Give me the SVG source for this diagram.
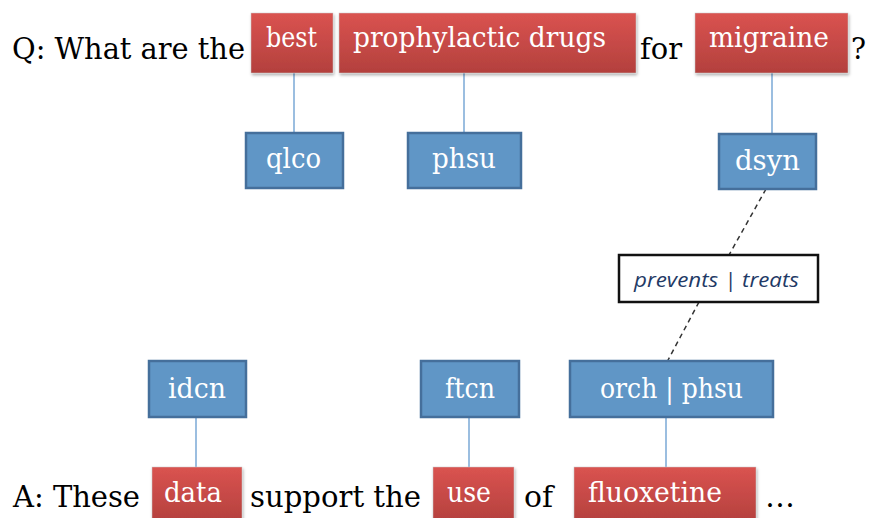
<svg xmlns="http://www.w3.org/2000/svg" width="869" height="518" viewBox="0 0 869 518">
<defs>
<linearGradient id="rg" x1="0" y1="0" x2="0" y2="1">
<stop offset="0" stop-color="#da5350"/>
<stop offset="1" stop-color="#b3403d"/>
</linearGradient>
<filter id="sh" x="-10%" y="-10%" width="130%" height="130%">
<feDropShadow dx="1" dy="2" stdDeviation="1.5" flood-color="#000" flood-opacity="0.3"/>
</filter>
<style>
.red{fill:url(#rg);stroke:#c9c9c9;stroke-width:0.5;filter:url(#sh)}
.blue{fill:#6096c6;stroke:#456f9b;stroke-width:2.5}
.wt{font-family:"DejaVu Serif","Liberation Serif",serif;font-size:27px;fill:#fff}
.bt{font-family:"DejaVu Serif","Liberation Serif",serif;font-size:30px;fill:#000}
.ln{stroke:#7aa8d6;stroke-width:1.5;fill:none}
.dash{stroke:#333;stroke-width:1.5;stroke-dasharray:5,4;fill:none}
.lbl{fill:#fff;stroke:#111;stroke-width:2.5}
.lt{font-family:"Open Sans","Liberation Sans",sans-serif;font-style:italic;font-weight:500;font-size:20px;fill:#1f3a66}
</style>
</defs>
<rect width="869" height="518" fill="#fff"/>
<g id="connectors">
<line class="ln" x1="294" y1="73" x2="294" y2="133"/>
<line class="ln" x1="464" y1="73" x2="464" y2="133"/>
<line class="ln" x1="772" y1="73" x2="772" y2="134"/>
<line class="ln" x1="196" y1="417" x2="196" y2="467"/>
<line class="ln" x1="469" y1="417" x2="469" y2="467"/>
<line class="ln" x1="666" y1="417" x2="666" y2="467"/>
<line class="dash" x1="766" y1="189" x2="729" y2="255"/>
<line class="dash" x1="699" y1="302" x2="667" y2="362"/>
</g>
<g id="q-text">
<text class="bt" x="12" y="59" textLength="233" lengthAdjust="spacingAndGlyphs">Q: What are the</text>
<text class="bt" x="640" y="59" textLength="42" lengthAdjust="spacingAndGlyphs">for</text>
<text class="bt" x="851" y="59" textLength="15" lengthAdjust="spacingAndGlyphs">?</text>
</g>
<g id="best"><rect class="red" x="251" y="13" width="82" height="60"/><text class="wt" x="266" y="47" textLength="51" lengthAdjust="spacingAndGlyphs">best</text></g>
<g id="prophylactic-drugs"><rect class="red" x="339" y="13" width="297" height="60"/><text class="wt" x="353" y="47" textLength="253" lengthAdjust="spacingAndGlyphs">prophylactic drugs</text></g>
<g id="migraine"><rect class="red" x="695" y="13" width="153" height="60"/><text class="wt" x="709" y="47" textLength="120" lengthAdjust="spacingAndGlyphs">migraine</text></g>
<g id="qlco"><rect class="blue" x="246" y="133" width="97" height="55"/><text class="wt" x="266" y="168" textLength="55" lengthAdjust="spacingAndGlyphs">qlco</text></g>
<g id="phsu"><rect class="blue" x="408" y="133" width="113" height="55"/><text class="wt" x="432" y="168" textLength="64" lengthAdjust="spacingAndGlyphs">phsu</text></g>
<g id="dsyn"><rect class="blue" x="719" y="134" width="97" height="55"/><text class="wt" x="735" y="170" textLength="65" lengthAdjust="spacingAndGlyphs">dsyn</text></g>
<g id="relation"><rect class="lbl" x="619" y="255" width="199" height="47"/><text class="lt" x="634" y="287" textLength="165" lengthAdjust="spacingAndGlyphs">prevents | treats</text></g>
<g id="idcn"><rect class="blue" x="149" y="361" width="97" height="56"/><text class="wt" x="168" y="398" textLength="58" lengthAdjust="spacingAndGlyphs">idcn</text></g>
<g id="ftcn"><rect class="blue" x="421" y="361" width="98" height="56"/><text class="wt" x="445" y="398" textLength="50" lengthAdjust="spacingAndGlyphs">ftcn</text></g>
<g id="orch-phsu"><rect class="blue" x="570" y="361" width="203" height="56"/><text class="wt" x="600" y="398" textLength="143" lengthAdjust="spacingAndGlyphs">orch | phsu</text></g>
<g id="a-text">
<text class="bt" x="13" y="507" textLength="127" lengthAdjust="spacingAndGlyphs">A: These</text>
<text class="bt" x="250" y="507" textLength="171" lengthAdjust="spacingAndGlyphs">support the</text>
<text class="bt" x="524" y="507" textLength="29" lengthAdjust="spacingAndGlyphs">of</text>
<text class="bt" x="765" y="507" textLength="30" lengthAdjust="spacingAndGlyphs">…</text>
</g>
<g id="data"><rect class="red" x="152" y="467" width="90" height="56"/><text class="wt" x="164" y="502" textLength="58" lengthAdjust="spacingAndGlyphs">data</text></g>
<g id="use"><rect class="red" x="433" y="467" width="81" height="56"/><text class="wt" x="447" y="502" textLength="44" lengthAdjust="spacingAndGlyphs">use</text></g>
<g id="fluoxetine"><rect class="red" x="574" y="467" width="182" height="56"/><text class="wt" x="588" y="502" textLength="134" lengthAdjust="spacingAndGlyphs">fluoxetine</text></g>
</svg>
